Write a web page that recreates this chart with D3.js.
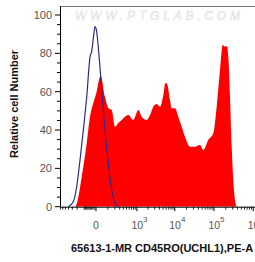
<!DOCTYPE html>
<html><head><meta charset="utf-8">
<script src="https://cdn.jsdelivr.net/npm/d3@7"></script>
<style>body{margin:0;background:#fff}svg{display:block}</style>
</head><body>
<script>
// Data (fluorescence value, relative count)
const redX = [-242,-210,-131,-72,-42,-17,4,26,32,69,106,151,204,269,351,447,563,789,1092,1354,1849,2265,2770,3400,4150,5060,5700,6190,7530,8340,10130,12310,15040,18280,24540,32930,44170,53590,71890,96390,117600,142800,167200,191400,211500,237800,256500,283500,311200,343900,379900];
const redY = [0,1.4,15.6,33.2,46.9,54.1,60,67.8,68.2,57.4,51.5,50.4,41.7,43.7,45.2,46.9,47.8,45.2,50.4,46.9,45.2,47.8,52.2,53.6,52.2,58.3,64.4,64.4,55.7,51.3,51.3,46.9,41.7,36.5,31.3,31.3,32.2,29.6,34.8,38.3,52.2,71.3,84.4,83.5,83.8,74.8,57.4,31.3,13.9,3.5,0];
const blueX = [-407,-278,-210,-155,-110,-72,-42,-29,-17,-6,4,14,26,45,69,106,151,204,269];
const blueY = [0,2.6,10.4,24.4,40,57.4,78.2,80.9,87.8,93.9,91.3,83.5,73,57.4,40,22.6,8.7,1.8,0];
const yTicks = [0,20,40,60,80,100];
const xMajor = [0,1e3,1e4,1e5,1e6];
const xMajorExp = ["","3","4","5","6"];

const W=255,H=262, L=60, R=255, T=6, B=206.7;
const svg=d3.select("body").append("svg").attr("width",W).attr("height",H);
const x=d3.scaleSymlog().constant(100).domain([-724,1.11e6]).range([L,R]);
const y=d3.scaleLinear().domain([0,104.7]).range([B,T]);

svg.append("defs").append("clipPath").attr("id","c").append("rect").attr("x",L).attr("y",T).attr("width",R-L).attr("height",B-T);

// watermark
svg.append("text").attr("x",75).attr("y",20).attr("textLength",165).attr("lengthAdjust","spacing")
  .attr("font-family","Liberation Sans, Arial").attr("font-size",12).attr("font-style","italic")
  .attr("fill","none").attr("stroke","#dadada").attr("stroke-width",0.5).text("WWW.PTGLAB.COM");

const g=svg.append("g").attr("clip-path","url(#c)");
const red=redX.map((v,i)=>[v,redY[i]]);
g.append("path").datum(red).attr("fill","#ff0000")
 .attr("d",d3.area().x(d=>x(d[0])).y0(y(0)).y1(d=>y(d[1])).curve(d3.curveMonotoneX));
const blue=blueX.map((v,i)=>[v,blueY[i]]);
g.append("path").datum(blue).attr("fill","none").attr("stroke","#2b2b8f").attr("stroke-width",1.2)
 .attr("d",d3.line().x(d=>x(d[0])).y(d=>y(d[1])).curve(d3.curveMonotoneX));

// frame
svg.append("line").attr("x1",L).attr("x2",R).attr("y1",T+0.5).attr("y2",T+0.5).attr("stroke","#777");
// y axis
const yMinor=d3.range(0,105,5);
svg.append("g").selectAll("line").data(yMinor).join("line")
 .attr("x1",d=>d%20===0?L-5:L-3).attr("x2",L).attr("y1",d=>y(d)).attr("y2",d=>y(d)).attr("stroke","#000");
svg.append("line").attr("x1",L+0.5).attr("x2",L+0.5).attr("y1",T).attr("y2",B).attr("stroke","#000");
svg.append("g").selectAll("text").data(yTicks).join("text")
 .attr("x",L-8).attr("y",d=>y(d)+4).attr("text-anchor","end")
 .attr("font-family","Liberation Sans, Arial").attr("font-size",11).attr("fill","#555").text(d=>d);

// x axis
let xMinor=d3.range(-700,0,100).concat(d3.range(-90,0,10)).concat(d3.range(100,1000,100));
[1e3,1e4,1e5].forEach(b=>{for(let k=2;k<10;k++)xMinor.push(k*b);});
svg.append("line").attr("x1",L).attr("x2",R).attr("y1",B+0.5).attr("y2",B+0.5).attr("stroke","#000");
svg.append("g").selectAll("line").data(xMinor).join("line")
 .attr("x1",d=>x(d)).attr("x2",d=>x(d)).attr("y1",B).attr("y2",B+3).attr("stroke","#000").attr("stroke-width",0.8);
svg.append("g").selectAll("line").data(xMajor).join("line")
 .attr("x1",d=>x(d)).attr("x2",d=>x(d)).attr("y1",B).attr("y2",B+4.5).attr("stroke","#000").attr("stroke-width",1);
const xl=svg.append("g").selectAll("text").data(xMajor).join("text")
 .attr("font-family","Liberation Sans, Arial").attr("font-size",10.5).attr("fill","#555")
 .attr("y",228.5);
xl.each(function(d,i){
  const t=d3.select(this);
  if(i===0){t.attr("x",x(d)).attr("text-anchor","middle").text("0");}
  else{t.attr("x",x(d)-5.5).attr("text-anchor","start");
    t.append("tspan").text("10");
    t.append("tspan").attr("dy",-7).attr("font-size",8).text(xMajorExp[i]);}
});

// axis titles
svg.append("text").attr("x",162).attr("y",252).attr("text-anchor","middle")
 .attr("font-family","Liberation Sans, Arial").attr("font-weight","bold").attr("font-size",11)
 .attr("fill","#111").text("65613-1-MR CD45RO(UCHL1),PE-A");
svg.append("text").attr("transform","translate(18,104) rotate(-90)").attr("text-anchor","middle")
 .attr("font-family","Liberation Sans, Arial").attr("font-weight","bold").attr("font-size",11)
 .attr("fill","#111").text("Relative cell Number");
</script>
</body></html>
